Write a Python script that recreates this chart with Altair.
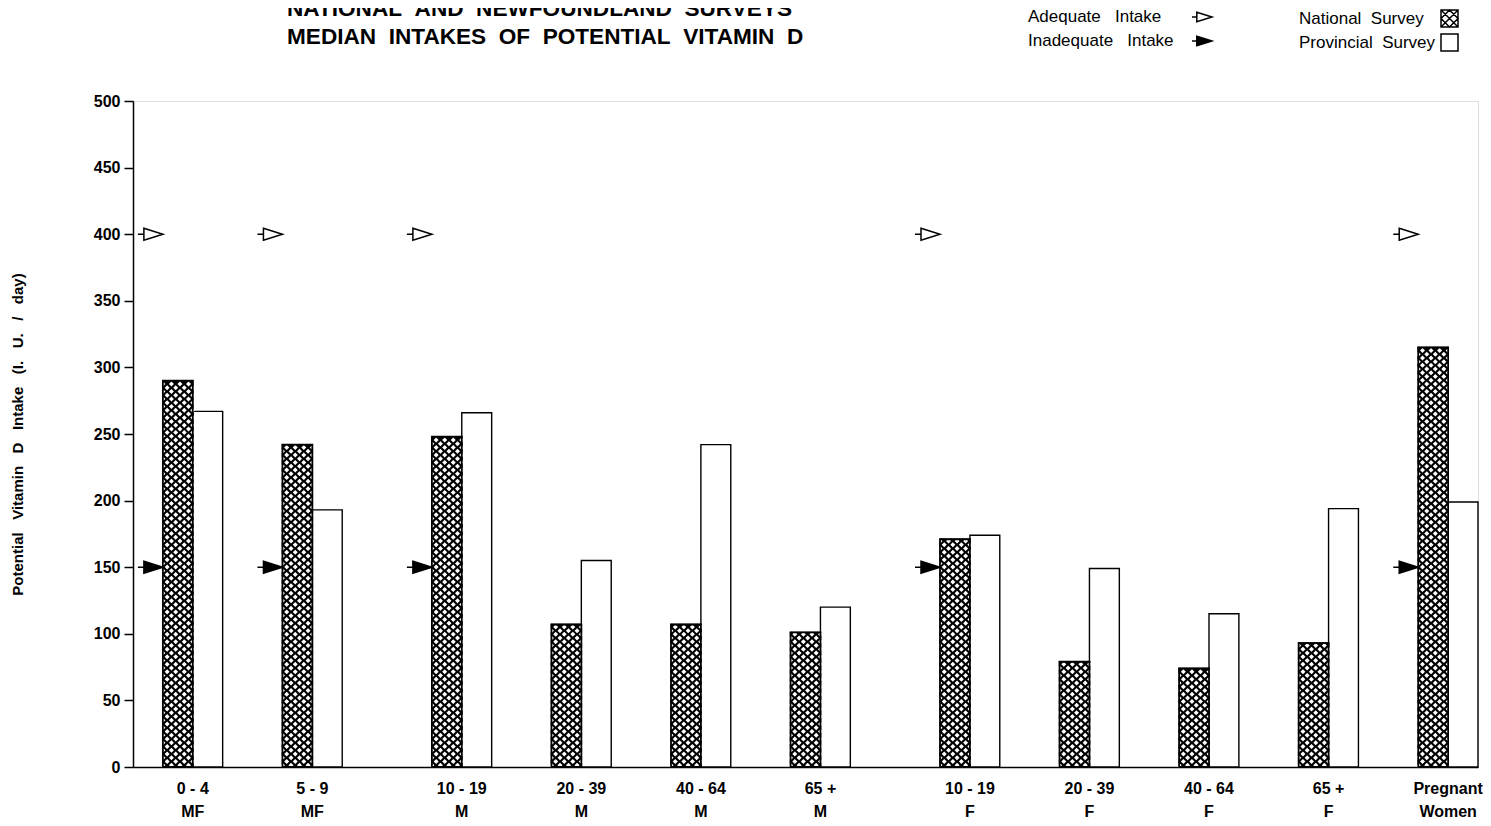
import altair as alt
import pandas as pd

# ---------------- data ----------------
groups = ["0 - 4|MF", "5 - 9|MF", "10 - 19|M", "20 - 39|M", "40 - 64|M", "65 +|M",
          "10 - 19|F", "20 - 39|F", "40 - 64|F", "65 +|F", "Pregnant|Women"]
national = [290, 242, 248, 107, 107, 101, 171, 79, 74, 93, 315]
provincial = [267, 193, 266, 155, 242, 120, 174, 149, 115, 194, 199]
adequate = [400, 400, 400, None, None, None, 400, None, None, None, 400]
inadequate = [150, 150, 150, None, None, None, 150, None, None, None, 150]
series = ["National Survey", "Provincial Survey"]
kinds = ["Adequate Intake", "Inadequate Intake"]
y_ticks = list(range(0, 501, 50))

title_lines = ["NATIONAL AND NEWFOUNDLAND SURVEYS", "MEDIAN INTAKES OF POTENTIAL VITAMIN D"]
y_title = "Potential Vitamin D Intake (I. U. / day)"

# ---------------- layout / style ----------------
W, H = 1345, 666
PAD = {"left": 125, "top": 93, "right": 5, "bottom": 56}
FONT = "Liberation Sans"
WIDE_GAP_BEFORE = {"10 - 19|M", "10 - 19|F"}
NB = "\u00a0"


def spaced(s, n=2):
    return s.replace(" ", NB * n)


# x slots: one slot per bar, empty slots for the gaps between groups
slots = ["_lead"]
for i, g in enumerate(groups):
    if i > 0:
        n_gap = 3 if g in WIDE_GAP_BEFORE else 2
        slots += [f"_gap{i}_{k}" for k in range(n_gap)]
    slots += [g + "#N", g + "#P"]
STEP = W / len(slots)

bars = pd.DataFrame(
    [{"slot": g + "#N", "series": series[0], "value": v} for g, v in zip(groups, national)]
    + [{"slot": g + "#P", "series": series[1], "value": v} for g, v in zip(groups, provincial)]
)
nat = bars[bars.series == series[0]]
prov = bars[bars.series == series[1]]

marks = pd.DataFrame(
    [{"slot": g + "#N", "kind": kinds[0], "value": v} for g, v in zip(groups, adequate) if v is not None]
    + [{"slot": g + "#N", "kind": kinds[1], "value": v} for g, v in zip(groups, inadequate) if v is not None]
)

# cross-hatch texture for the national bars: white diamonds on a black bar
PX = H / 500.0
SUB = 8
cell = STEP / SUB
hatch = []
for g, v in zip(groups, national):
    h = v * PX
    r = 0
    while cell / 2 + r * cell <= h:
        ypx = cell / 2 + r * cell
        for k in range(r % 2, SUB, 2):
            hatch.append({"slot": g + "#N", "sub": f"h{k}", "value": ypx / PX})
        r += 1
hatch = pd.DataFrame(hatch)

ARROW = "M-2.5,0L-1.9,0M-1.9,-0.6L0,0L-1.9,0.6Z"
HATCH_BOX = "M-1,-1H1V1H-1Z M-1,-1L1,1 M1,-1L-1,1 M0,-1L1,0L0,1L-1,0Z"
LEGEND_GAP = NB * 3

x_scale = alt.Scale(domain=slots, paddingInner=0, paddingOuter=0)
y_scale = alt.Scale(domain=[0, 500], nice=False, zero=True)

x_axis = alt.Axis(
    title=None, ticks=False, domain=True, domainColor="black", domainWidth=1.5,
    labelAngle=0, labelFont=FONT, labelFontSize=16, labelFontWeight="bold", labelColor="black",
    labelPadding=13, labelLineHeight=23, labelOffset=STEP / 2, labelOverlap=False, labelBound=False,
    labelLimit=0,
    labelExpr="indexof(datum.value, '#N') > 0 ? split(replace(datum.value, '#N', ''), '|') : ''",
)
y_axis = alt.Axis(
    values=y_ticks, grid=False, tickSize=9, tickWidth=1.5, tickColor="black",
    domainColor="black", domainWidth=1.5, labelFont=FONT, labelFontSize=16,
    labelFontWeight="bold", labelColor="black", labelPadding=4,
    title=spaced(y_title, 3), titleFont=FONT, titleFontSize=15, titleFontWeight="bold",
    titleColor="black", titlePadding=68,
)

X = alt.X("slot:N", scale=x_scale, axis=x_axis, sort=slots)
Y = alt.Y("value:Q", scale=y_scale, axis=y_axis)

prov_bars = alt.Chart(prov).mark_bar(
    fill="white", stroke="black", strokeWidth=1.4, width=STEP).encode(x=X, y=Y)
nat_bars = alt.Chart(nat).mark_bar(
    fill="black", stroke="black", strokeWidth=1.5, width=STEP).encode(x=X, y=Y)
hatch_layer = alt.Chart(hatch).mark_point(
    shape="diamond", filled=True, fill="white", size=25, opacity=1, strokeWidth=0
).encode(
    x=X, y=Y,
    xOffset=alt.XOffset("sub:N", scale=alt.Scale(domain=[f"h{k}" for k in range(SUB)],
                                                 paddingInner=0, paddingOuter=0)),
)
nat_outline = alt.Chart(nat).mark_bar(
    fillOpacity=0, stroke="black", strokeWidth=1.8, width=STEP).encode(x=X, y=Y)

arrows = alt.Chart(marks).mark_point(
    shape=ARROW, size=400, filled=True, stroke="black", strokeWidth=1.5, opacity=1
).encode(
    x=alt.X("slot:N", scale=x_scale, axis=x_axis, sort=slots, bandPosition=0),
    y=Y,
    fill=alt.Fill("kind:N", scale=alt.Scale(domain=kinds, range=["white", "black"]),
                  legend=alt.Legend(
                      orient="none", legendX=1070, legendY=-93, title=None,
                      symbolType=ARROW, symbolSize=256, symbolStrokeColor="black",
                      symbolStrokeWidth=1.5, labelAlign="left",
                      labelOffset={"expr": "-193"}, symbolOffset=0,
                      labelFont=FONT, labelFontSize=17, labelColor="black", labelLimit=0,
                      rowPadding=7, labelExpr=f"replace(datum.label, ' ', '{LEGEND_GAP}')",
                  )),
)

series_legend = alt.Chart(bars).transform_filter("false").mark_point(
    filled=False, color="black", strokeWidth=1.5, opacity=1, size=289
).encode(
    x=X, y=Y,
    shape=alt.Shape("series:N", scale=alt.Scale(domain=series, range=[HATCH_BOX, "square"]),
                    legend=alt.Legend(
                        orient="none", legendX=1307, legendY=-92, title=None,
                        symbolSize=289, symbolStrokeColor="black",
                        symbolStrokeWidth=1.5, labelAlign="left",
                        labelOffset={"expr": "-160"}, symbolOffset=0,
                        labelFont=FONT, labelFontSize=17, labelColor="black", labelLimit=0,
                        rowPadding=1, labelExpr=f"replace(datum.label, ' ', '{NB}{NB}')",
                    )),
)

chart = alt.layer(
    prov_bars, nat_bars, hatch_layer, nat_outline, arrows, series_legend
).resolve_scale(
    xOffset="independent"
).properties(
    width=W, height=H,
    autosize=alt.AutoSizeParams(type="none"),
    padding=PAD,
    title=alt.TitleParams(
        text=[spaced(t, 2) for t in title_lines], anchor="start", frame="group", dx=154,
        offset=-41, font=FONT, fontSize=22.6, fontWeight="bold", color="black", lineHeight=28,
    ),
).configure_view(stroke=None).configure(background="white")

chart.save("out.html", embed_options={"renderer": "svg", "actions": False})
